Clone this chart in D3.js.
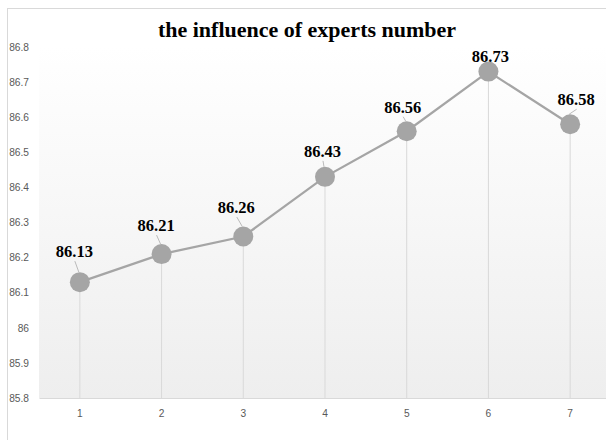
<!DOCTYPE html>
<html>
<head>
<meta charset="utf-8">
<script src="https://cdn.jsdelivr.net/npm/d3@7"></script>
<style>
  html, body { margin: 0; padding: 0; background: #ffffff; }
  svg { display: block; }
</style>
</head>
<body>
<svg id="chart" width="606" height="440"></svg>
<script>
// ---- data ----
const title = "the influence of experts number";
const categories = ["1", "2", "3", "4", "5", "6", "7"];
const values = [86.13, 86.21, 86.26, 86.43, 86.56, 86.73, 86.58];
const yTicks = [85.8, 85.9, 86, 86.1, 86.2, 86.3, 86.4, 86.5, 86.6, 86.7, 86.8];

// ---- layout (label placement offsets, px) ----
const labelDx = [-5.5, -5.5, -7, -2.5, -4, 2, 6];
const labelDy = [-25, -23, -23.5, -20, -18.5, -10, -19];
const showLeader = [true, true, true, true, true, false, true];

const svg = d3.select("#chart");
const plot = { left: 39, right: 611, top: 47, bottom: 398 };

// outer chart border
svg.append("rect")
  .attr("x", 7.5).attr("y", 8.5)
  .attr("width", 620).attr("height", 460)
  .attr("fill", "#ffffff")
  .attr("stroke", "#d9d9d9").attr("stroke-width", 1);

// gradient for plot area
const defs = svg.append("defs");
const grad = defs.append("linearGradient")
  .attr("id", "plotGrad").attr("x1", 0).attr("y1", 0).attr("x2", 0).attr("y2", 1);
grad.append("stop").attr("offset", "0%").attr("stop-color", "#ffffff");
grad.append("stop").attr("offset", "100%").attr("stop-color", "#eeeeee");

const x = d3.scaleBand().domain(categories).range([plot.left, plot.right]).padding(0);
const y = d3.scaleLinear().domain([85.8, 86.8]).range([plot.bottom, plot.top]);
const cx = d => x(d) + x.bandwidth() / 2;

svg.append("rect")
  .attr("x", plot.left).attr("y", plot.top)
  .attr("width", plot.right - plot.left).attr("height", plot.bottom - plot.top)
  .attr("fill", "url(#plotGrad)");

// title
svg.append("text")
  .attr("x", 307).attr("y", 37)
  .attr("text-anchor", "middle")
  .attr("font-family", "'Liberation Serif', 'Times New Roman', serif")
  .attr("font-weight", "bold")
  .attr("font-size", 22)
  .attr("fill", "#000000")
  .text(title);

// y axis labels
const yAxis = d3.axisLeft(y).tickValues(yTicks).tickSize(0).tickPadding(0)
  .tickFormat(d => d3.format("")(+d.toFixed(1)));
const gy = svg.append("g").attr("transform", `translate(${29},0)`).call(yAxis);
gy.select(".domain").remove();
gy.selectAll("text")
  .attr("font-family", "'Liberation Sans', Arial, sans-serif")
  .attr("font-size", 10.2)
  .attr("fill", "#595959");

// x axis
const xAxis = d3.axisBottom(x).tickSize(0).tickPadding(0);
const gx = svg.append("g").attr("transform", `translate(0,${plot.bottom})`).call(xAxis);
gx.select(".domain").attr("stroke", "#d9d9d9").attr("stroke-width", 1);
gx.selectAll("text")
  .attr("y", 12)
  .attr("font-family", "'Liberation Sans', Arial, sans-serif")
  .attr("font-size", 10.2)
  .attr("fill", "#595959");

// drop lines
svg.append("g").selectAll("line").data(values).join("line")
  .attr("x1", (d, i) => cx(categories[i])).attr("x2", (d, i) => cx(categories[i]))
  .attr("y1", d => y(d)).attr("y2", plot.bottom)
  .attr("stroke", "#d9d9d9").attr("stroke-width", 1);

// line
const line = d3.line().x((d, i) => cx(categories[i])).y(d => y(d));
svg.append("path").datum(values)
  .attr("d", line)
  .attr("fill", "none")
  .attr("stroke", "#a5a5a5")
  .attr("stroke-width", 2.25);

// markers
svg.append("g").selectAll("circle").data(values).join("circle")
  .attr("cx", (d, i) => cx(categories[i]))
  .attr("cy", d => y(d))
  .attr("r", 10)
  .attr("fill", "#a5a5a5");

// leader lines
const leaderIdx = values.map((d, i) => i).filter(i => showLeader[i]);
svg.append("g").selectAll("line").data(leaderIdx).join("line")
  .attr("x1", i => cx(categories[i]) + labelDx[i] + 0.5)
  .attr("y1", i => y(values[i]) + labelDy[i] + 4)
  .attr("x2", i => cx(categories[i]) - 1)
  .attr("y2", i => y(values[i]) - 10)
  .attr("stroke", "#a6a6a6").attr("stroke-width", 0.75);

// data labels
svg.append("g").selectAll("text").data(values).join("text")
  .attr("x", (d, i) => cx(categories[i]) + labelDx[i])
  .attr("y", (d, i) => y(d) + labelDy[i])
  .attr("text-anchor", "middle")
  .attr("font-family", "'Liberation Serif', 'Times New Roman', serif")
  .attr("font-weight", "bold")
  .attr("font-size", 16.5)
  .attr("fill", "#000000")
  .text(d => d.toFixed(2));
</script>
</body>
</html>
